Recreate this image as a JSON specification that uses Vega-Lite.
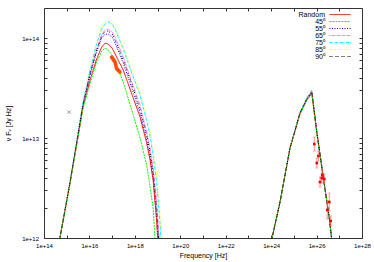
{
  "$schema": "https://vega.github.io/schema/vega-lite/v6.json",
  "width": 318,
  "height": 230,
  "autosize": {"type": "none"},
  "padding": {"left": 44, "top": 8, "right": 12, "bottom": 24},
  "background": "white",
  "config": {
    "view": {"stroke": "#333333", "strokeWidth": 1},
    "axis": {
      "domain": false, "grid": false, "tickColor": "#333333", "tickSize": -3, "tickWidth": 1,
      "labelFont": "Liberation Sans", "labelFontSize": 6, "labelColor": "#000000",
      "labelFlush": false, "labelOverlap": false,
      "titleFont": "Liberation Sans", "titleFontSize": 7, "titleFontWeight": "normal", "titleColor": "#000000"
    }
  },
  "datasets": {
    "curves": [
      {"curve":"85⁰","hump":"sync","log_nu":14.55,"log_nuFnu":11.81},{"curve":"85⁰","hump":"sync","log_nu":14.70,"log_nuFnu":12.00},{"curve":"85⁰","hump":"sync","log_nu":15.14,"log_nuFnu":12.55},{"curve":"85⁰","hump":"sync","log_nu":15.72,"log_nuFnu":13.36},{"curve":"85⁰","hump":"sync","log_nu":16.03,"log_nuFnu":13.69},{"curve":"85⁰","hump":"sync","log_nu":16.30,"log_nuFnu":13.94},{"curve":"85⁰","hump":"sync","log_nu":16.54,"log_nuFnu":14.11},{"curve":"85⁰","hump":"sync","log_nu":16.69,"log_nuFnu":14.16},{"curve":"85⁰","hump":"sync","log_nu":16.83,"log_nuFnu":14.18},{"curve":"85⁰","hump":"sync","log_nu":17.00,"log_nuFnu":14.16},{"curve":"85⁰","hump":"sync","log_nu":17.13,"log_nuFnu":14.11},{"curve":"85⁰","hump":"sync","log_nu":17.49,"log_nuFnu":13.91},{"curve":"85⁰","hump":"sync","log_nu":17.85,"log_nuFnu":13.69},{"curve":"85⁰","hump":"sync","log_nu":18.23,"log_nuFnu":13.46},{"curve":"85⁰","hump":"sync","log_nu":18.52,"log_nuFnu":13.20},{"curve":"85⁰","hump":"sync","log_nu":18.67,"log_nuFnu":13.06},{"curve":"85⁰","hump":"sync","log_nu":18.81,"log_nuFnu":12.85},{"curve":"85⁰","hump":"sync","log_nu":18.96,"log_nuFnu":12.63},{"curve":"85⁰","hump":"sync","log_nu":19.11,"log_nuFnu":12.23},{"curve":"85⁰","hump":"sync","log_nu":19.20,"log_nuFnu":11.80},
      {"curve":"75⁰","hump":"sync","log_nu":14.55,"log_nuFnu":11.81},{"curve":"75⁰","hump":"sync","log_nu":14.70,"log_nuFnu":12.00},{"curve":"75⁰","hump":"sync","log_nu":15.14,"log_nuFnu":12.55},{"curve":"75⁰","hump":"sync","log_nu":15.72,"log_nuFnu":13.36},{"curve":"75⁰","hump":"sync","log_nu":16.03,"log_nuFnu":13.68},{"curve":"75⁰","hump":"sync","log_nu":16.30,"log_nuFnu":13.93},{"curve":"75⁰","hump":"sync","log_nu":16.54,"log_nuFnu":14.09},{"curve":"75⁰","hump":"sync","log_nu":16.69,"log_nuFnu":14.14},{"curve":"75⁰","hump":"sync","log_nu":16.83,"log_nuFnu":14.16},{"curve":"75⁰","hump":"sync","log_nu":17.00,"log_nuFnu":14.14},{"curve":"75⁰","hump":"sync","log_nu":17.13,"log_nuFnu":14.09},{"curve":"75⁰","hump":"sync","log_nu":17.49,"log_nuFnu":13.89},{"curve":"75⁰","hump":"sync","log_nu":17.85,"log_nuFnu":13.66},{"curve":"75⁰","hump":"sync","log_nu":18.23,"log_nuFnu":13.43},{"curve":"75⁰","hump":"sync","log_nu":18.52,"log_nuFnu":13.17},{"curve":"75⁰","hump":"sync","log_nu":18.67,"log_nuFnu":13.02},{"curve":"75⁰","hump":"sync","log_nu":18.81,"log_nuFnu":12.81},{"curve":"75⁰","hump":"sync","log_nu":18.96,"log_nuFnu":12.56},{"curve":"75⁰","hump":"sync","log_nu":19.11,"log_nuFnu":12.14},{"curve":"75⁰","hump":"sync","log_nu":19.20,"log_nuFnu":11.71},
      {"curve":"65⁰","hump":"sync","log_nu":14.55,"log_nuFnu":11.81},{"curve":"65⁰","hump":"sync","log_nu":14.70,"log_nuFnu":12.00},{"curve":"65⁰","hump":"sync","log_nu":15.14,"log_nuFnu":12.55},{"curve":"65⁰","hump":"sync","log_nu":15.72,"log_nuFnu":13.34},{"curve":"65⁰","hump":"sync","log_nu":16.03,"log_nuFnu":13.65},{"curve":"65⁰","hump":"sync","log_nu":16.30,"log_nuFnu":13.88},{"curve":"65⁰","hump":"sync","log_nu":16.54,"log_nuFnu":14.04},{"curve":"65⁰","hump":"sync","log_nu":16.69,"log_nuFnu":14.08},{"curve":"65⁰","hump":"sync","log_nu":16.83,"log_nuFnu":14.09},{"curve":"65⁰","hump":"sync","log_nu":17.00,"log_nuFnu":14.06},{"curve":"65⁰","hump":"sync","log_nu":17.13,"log_nuFnu":14.01},{"curve":"65⁰","hump":"sync","log_nu":17.49,"log_nuFnu":13.81},{"curve":"65⁰","hump":"sync","log_nu":17.85,"log_nuFnu":13.57},{"curve":"65⁰","hump":"sync","log_nu":18.23,"log_nuFnu":13.33},{"curve":"65⁰","hump":"sync","log_nu":18.52,"log_nuFnu":13.06},{"curve":"65⁰","hump":"sync","log_nu":18.67,"log_nuFnu":12.90},{"curve":"65⁰","hump":"sync","log_nu":18.81,"log_nuFnu":12.69},{"curve":"65⁰","hump":"sync","log_nu":18.96,"log_nuFnu":12.36},{"curve":"65⁰","hump":"sync","log_nu":19.11,"log_nuFnu":11.87},{"curve":"65⁰","hump":"sync","log_nu":19.20,"log_nuFnu":11.42},
      {"curve":"55⁰","hump":"sync","log_nu":14.55,"log_nuFnu":11.81},{"curve":"55⁰","hump":"sync","log_nu":14.70,"log_nuFnu":12.00},{"curve":"55⁰","hump":"sync","log_nu":15.14,"log_nuFnu":12.55},{"curve":"55⁰","hump":"sync","log_nu":15.72,"log_nuFnu":13.33},{"curve":"55⁰","hump":"sync","log_nu":16.03,"log_nuFnu":13.63},{"curve":"55⁰","hump":"sync","log_nu":16.30,"log_nuFnu":13.85},{"curve":"55⁰","hump":"sync","log_nu":16.54,"log_nuFnu":14.00},{"curve":"55⁰","hump":"sync","log_nu":16.69,"log_nuFnu":14.04},{"curve":"55⁰","hump":"sync","log_nu":16.83,"log_nuFnu":14.04},{"curve":"55⁰","hump":"sync","log_nu":17.00,"log_nuFnu":14.01},{"curve":"55⁰","hump":"sync","log_nu":17.13,"log_nuFnu":13.95},{"curve":"55⁰","hump":"sync","log_nu":17.49,"log_nuFnu":13.75},{"curve":"55⁰","hump":"sync","log_nu":17.85,"log_nuFnu":13.51},{"curve":"55⁰","hump":"sync","log_nu":18.23,"log_nuFnu":13.25},{"curve":"55⁰","hump":"sync","log_nu":18.52,"log_nuFnu":12.98},{"curve":"55⁰","hump":"sync","log_nu":18.67,"log_nuFnu":12.81},{"curve":"55⁰","hump":"sync","log_nu":18.81,"log_nuFnu":12.59},{"curve":"55⁰","hump":"sync","log_nu":18.96,"log_nuFnu":12.20},{"curve":"55⁰","hump":"sync","log_nu":19.11,"log_nuFnu":11.66},{"curve":"55⁰","hump":"sync","log_nu":19.20,"log_nuFnu":11.20},
      {"curve":"Random","hump":"sync","log_nu":14.55,"log_nuFnu":11.81},{"curve":"Random","hump":"sync","log_nu":14.70,"log_nuFnu":12.00},{"curve":"Random","hump":"sync","log_nu":15.14,"log_nuFnu":12.54},{"curve":"Random","hump":"sync","log_nu":15.72,"log_nuFnu":13.31},{"curve":"Random","hump":"sync","log_nu":16.03,"log_nuFnu":13.58},{"curve":"Random","hump":"sync","log_nu":16.30,"log_nuFnu":13.78},{"curve":"Random","hump":"sync","log_nu":16.54,"log_nuFnu":13.91},{"curve":"Random","hump":"sync","log_nu":16.69,"log_nuFnu":13.95},{"curve":"Random","hump":"sync","log_nu":16.83,"log_nuFnu":13.94},{"curve":"Random","hump":"sync","log_nu":17.00,"log_nuFnu":13.90},{"curve":"Random","hump":"sync","log_nu":17.13,"log_nuFnu":13.84},{"curve":"Random","hump":"sync","log_nu":17.49,"log_nuFnu":13.68},{"curve":"Random","hump":"sync","log_nu":17.85,"log_nuFnu":13.45},{"curve":"Random","hump":"sync","log_nu":18.23,"log_nuFnu":13.21},{"curve":"Random","hump":"sync","log_nu":18.52,"log_nuFnu":12.95},{"curve":"Random","hump":"sync","log_nu":18.67,"log_nuFnu":12.78},{"curve":"Random","hump":"sync","log_nu":18.81,"log_nuFnu":12.57},{"curve":"Random","hump":"sync","log_nu":18.96,"log_nuFnu":12.17},{"curve":"Random","hump":"sync","log_nu":19.11,"log_nuFnu":11.60},{"curve":"Random","hump":"sync","log_nu":19.20,"log_nuFnu":11.15},
      {"curve":"45⁰","hump":"sync","log_nu":14.55,"log_nuFnu":11.81},{"curve":"45⁰","hump":"sync","log_nu":14.70,"log_nuFnu":12.00},{"curve":"45⁰","hump":"sync","log_nu":15.14,"log_nuFnu":12.54},{"curve":"45⁰","hump":"sync","log_nu":15.72,"log_nuFnu":13.30},{"curve":"45⁰","hump":"sync","log_nu":16.03,"log_nuFnu":13.55},{"curve":"45⁰","hump":"sync","log_nu":16.30,"log_nuFnu":13.75},{"curve":"45⁰","hump":"sync","log_nu":16.54,"log_nuFnu":13.87},{"curve":"45⁰","hump":"sync","log_nu":16.69,"log_nuFnu":13.90},{"curve":"45⁰","hump":"sync","log_nu":16.83,"log_nuFnu":13.88},{"curve":"45⁰","hump":"sync","log_nu":17.00,"log_nuFnu":13.83},{"curve":"45⁰","hump":"sync","log_nu":17.13,"log_nuFnu":13.76},{"curve":"45⁰","hump":"sync","log_nu":17.49,"log_nuFnu":13.56},{"curve":"45⁰","hump":"sync","log_nu":17.85,"log_nuFnu":13.29},{"curve":"45⁰","hump":"sync","log_nu":18.23,"log_nuFnu":13.00},{"curve":"45⁰","hump":"sync","log_nu":18.52,"log_nuFnu":12.73},{"curve":"45⁰","hump":"sync","log_nu":18.67,"log_nuFnu":12.51},{"curve":"45⁰","hump":"sync","log_nu":18.81,"log_nuFnu":12.29},{"curve":"45⁰","hump":"sync","log_nu":18.96,"log_nuFnu":11.70},{"curve":"45⁰","hump":"sync","log_nu":19.11,"log_nuFnu":11.00},{"curve":"45⁰","hump":"sync","log_nu":19.20,"log_nuFnu":10.50},
      {"curve":"90⁰","hump":"sync","log_nu":14.55,"log_nuFnu":11.81},{"curve":"90⁰","hump":"sync","log_nu":14.70,"log_nuFnu":12.00},{"curve":"90⁰","hump":"sync","log_nu":15.14,"log_nuFnu":12.55},{"curve":"90⁰","hump":"sync","log_nu":15.72,"log_nuFnu":13.34},{"curve":"90⁰","hump":"sync","log_nu":16.03,"log_nuFnu":13.64},{"curve":"90⁰","hump":"sync","log_nu":16.30,"log_nuFnu":13.87},{"curve":"90⁰","hump":"sync","log_nu":16.54,"log_nuFnu":14.02},{"curve":"90⁰","hump":"sync","log_nu":16.69,"log_nuFnu":14.07},{"curve":"90⁰","hump":"sync","log_nu":16.83,"log_nuFnu":14.07},{"curve":"90⁰","hump":"sync","log_nu":17.00,"log_nuFnu":14.04},{"curve":"90⁰","hump":"sync","log_nu":17.13,"log_nuFnu":13.98},{"curve":"90⁰","hump":"sync","log_nu":17.49,"log_nuFnu":13.78},{"curve":"90⁰","hump":"sync","log_nu":17.85,"log_nuFnu":13.55},{"curve":"90⁰","hump":"sync","log_nu":18.23,"log_nuFnu":13.29},{"curve":"90⁰","hump":"sync","log_nu":18.52,"log_nuFnu":13.03},{"curve":"90⁰","hump":"sync","log_nu":18.67,"log_nuFnu":12.86},{"curve":"90⁰","hump":"sync","log_nu":18.81,"log_nuFnu":12.65},{"curve":"90⁰","hump":"sync","log_nu":18.96,"log_nuFnu":12.30},{"curve":"90⁰","hump":"sync","log_nu":19.11,"log_nuFnu":11.79},{"curve":"90⁰","hump":"sync","log_nu":19.20,"log_nuFnu":11.33},
      {"curve":"85⁰","hump":"ic","log_nu":23.90,"log_nuFnu":11.86},{"curve":"85⁰","hump":"ic","log_nu":24.04,"log_nuFnu":12.00},{"curve":"85⁰","hump":"ic","log_nu":24.40,"log_nuFnu":12.37},{"curve":"85⁰","hump":"ic","log_nu":24.83,"log_nuFnu":12.90},{"curve":"85⁰","hump":"ic","log_nu":25.27,"log_nuFnu":13.26},{"curve":"85⁰","hump":"ic","log_nu":25.57,"log_nuFnu":13.41},{"curve":"85⁰","hump":"ic","log_nu":25.79,"log_nuFnu":13.48},{"curve":"85⁰","hump":"ic","log_nu":26.01,"log_nuFnu":13.06},{"curve":"85⁰","hump":"ic","log_nu":26.30,"log_nuFnu":12.60},{"curve":"85⁰","hump":"ic","log_nu":26.56,"log_nuFnu":12.20},{"curve":"85⁰","hump":"ic","log_nu":26.67,"log_nuFnu":11.98},{"curve":"85⁰","hump":"ic","log_nu":26.72,"log_nuFnu":11.88},
      {"curve":"75⁰","hump":"ic","log_nu":23.90,"log_nuFnu":11.86},{"curve":"75⁰","hump":"ic","log_nu":24.04,"log_nuFnu":12.00},{"curve":"75⁰","hump":"ic","log_nu":24.40,"log_nuFnu":12.37},{"curve":"75⁰","hump":"ic","log_nu":24.83,"log_nuFnu":12.90},{"curve":"75⁰","hump":"ic","log_nu":25.27,"log_nuFnu":13.26},{"curve":"75⁰","hump":"ic","log_nu":25.57,"log_nuFnu":13.40},{"curve":"75⁰","hump":"ic","log_nu":25.79,"log_nuFnu":13.48},{"curve":"75⁰","hump":"ic","log_nu":26.01,"log_nuFnu":13.06},{"curve":"75⁰","hump":"ic","log_nu":26.30,"log_nuFnu":12.60},{"curve":"75⁰","hump":"ic","log_nu":26.56,"log_nuFnu":12.20},{"curve":"75⁰","hump":"ic","log_nu":26.67,"log_nuFnu":11.98},{"curve":"75⁰","hump":"ic","log_nu":26.72,"log_nuFnu":11.88},
      {"curve":"65⁰","hump":"ic","log_nu":23.90,"log_nuFnu":11.86},{"curve":"65⁰","hump":"ic","log_nu":24.04,"log_nuFnu":12.00},{"curve":"65⁰","hump":"ic","log_nu":24.40,"log_nuFnu":12.37},{"curve":"65⁰","hump":"ic","log_nu":24.83,"log_nuFnu":12.90},{"curve":"65⁰","hump":"ic","log_nu":25.27,"log_nuFnu":13.25},{"curve":"65⁰","hump":"ic","log_nu":25.57,"log_nuFnu":13.40},{"curve":"65⁰","hump":"ic","log_nu":25.79,"log_nuFnu":13.47},{"curve":"65⁰","hump":"ic","log_nu":26.01,"log_nuFnu":13.06},{"curve":"65⁰","hump":"ic","log_nu":26.30,"log_nuFnu":12.60},{"curve":"65⁰","hump":"ic","log_nu":26.56,"log_nuFnu":12.20},{"curve":"65⁰","hump":"ic","log_nu":26.67,"log_nuFnu":11.98},{"curve":"65⁰","hump":"ic","log_nu":26.72,"log_nuFnu":11.88},
      {"curve":"55⁰","hump":"ic","log_nu":23.90,"log_nuFnu":11.86},{"curve":"55⁰","hump":"ic","log_nu":24.04,"log_nuFnu":12.00},{"curve":"55⁰","hump":"ic","log_nu":24.40,"log_nuFnu":12.37},{"curve":"55⁰","hump":"ic","log_nu":24.83,"log_nuFnu":12.90},{"curve":"55⁰","hump":"ic","log_nu":25.27,"log_nuFnu":13.25},{"curve":"55⁰","hump":"ic","log_nu":25.57,"log_nuFnu":13.39},{"curve":"55⁰","hump":"ic","log_nu":25.79,"log_nuFnu":13.46},{"curve":"55⁰","hump":"ic","log_nu":26.01,"log_nuFnu":13.06},{"curve":"55⁰","hump":"ic","log_nu":26.30,"log_nuFnu":12.60},{"curve":"55⁰","hump":"ic","log_nu":26.56,"log_nuFnu":12.20},{"curve":"55⁰","hump":"ic","log_nu":26.67,"log_nuFnu":11.98},{"curve":"55⁰","hump":"ic","log_nu":26.72,"log_nuFnu":11.88},
      {"curve":"Random","hump":"ic","log_nu":23.90,"log_nuFnu":11.86},{"curve":"Random","hump":"ic","log_nu":24.04,"log_nuFnu":12.00},{"curve":"Random","hump":"ic","log_nu":24.40,"log_nuFnu":12.37},{"curve":"Random","hump":"ic","log_nu":24.83,"log_nuFnu":12.90},{"curve":"Random","hump":"ic","log_nu":25.27,"log_nuFnu":13.24},{"curve":"Random","hump":"ic","log_nu":25.57,"log_nuFnu":13.38},{"curve":"Random","hump":"ic","log_nu":25.79,"log_nuFnu":13.45},{"curve":"Random","hump":"ic","log_nu":26.01,"log_nuFnu":13.06},{"curve":"Random","hump":"ic","log_nu":26.30,"log_nuFnu":12.60},{"curve":"Random","hump":"ic","log_nu":26.56,"log_nuFnu":12.20},{"curve":"Random","hump":"ic","log_nu":26.67,"log_nuFnu":11.98},{"curve":"Random","hump":"ic","log_nu":26.72,"log_nuFnu":11.88},
      {"curve":"45⁰","hump":"ic","log_nu":23.90,"log_nuFnu":11.86},{"curve":"45⁰","hump":"ic","log_nu":24.04,"log_nuFnu":12.00},{"curve":"45⁰","hump":"ic","log_nu":24.40,"log_nuFnu":12.37},{"curve":"45⁰","hump":"ic","log_nu":24.83,"log_nuFnu":12.90},{"curve":"45⁰","hump":"ic","log_nu":25.27,"log_nuFnu":13.24},{"curve":"45⁰","hump":"ic","log_nu":25.57,"log_nuFnu":13.38},{"curve":"45⁰","hump":"ic","log_nu":25.79,"log_nuFnu":13.44},{"curve":"45⁰","hump":"ic","log_nu":26.01,"log_nuFnu":13.05},{"curve":"45⁰","hump":"ic","log_nu":26.30,"log_nuFnu":12.60},{"curve":"45⁰","hump":"ic","log_nu":26.56,"log_nuFnu":12.20},{"curve":"45⁰","hump":"ic","log_nu":26.67,"log_nuFnu":11.98},{"curve":"45⁰","hump":"ic","log_nu":26.72,"log_nuFnu":11.88},
      {"curve":"90⁰","hump":"ic","log_nu":23.90,"log_nuFnu":11.86},{"curve":"90⁰","hump":"ic","log_nu":24.04,"log_nuFnu":12.00},{"curve":"90⁰","hump":"ic","log_nu":24.40,"log_nuFnu":12.37},{"curve":"90⁰","hump":"ic","log_nu":24.83,"log_nuFnu":12.90},{"curve":"90⁰","hump":"ic","log_nu":25.27,"log_nuFnu":13.25},{"curve":"90⁰","hump":"ic","log_nu":25.57,"log_nuFnu":13.39},{"curve":"90⁰","hump":"ic","log_nu":25.79,"log_nuFnu":13.46},{"curve":"90⁰","hump":"ic","log_nu":26.01,"log_nuFnu":13.06},{"curve":"90⁰","hump":"ic","log_nu":26.30,"log_nuFnu":12.60},{"curve":"90⁰","hump":"ic","log_nu":26.56,"log_nuFnu":12.20},{"curve":"90⁰","hump":"ic","log_nu":26.67,"log_nuFnu":11.98},{"curve":"90⁰","hump":"ic","log_nu":26.72,"log_nuFnu":11.88}
    ],
    "optical": [
      {"log_nu":16.98,"log_nuFnu":13.81},{"log_nu":17.01,"log_nuFnu":13.80},{"log_nu":17.04,"log_nuFnu":13.79},{"log_nu":17.07,"log_nuFnu":13.78},{"log_nu":17.10,"log_nuFnu":13.77},{"log_nu":17.13,"log_nuFnu":13.76},{"log_nu":17.15,"log_nuFnu":13.74},{"log_nu":17.17,"log_nuFnu":13.72},{"log_nu":17.19,"log_nuFnu":13.70},{"log_nu":17.22,"log_nuFnu":13.69},{"log_nu":17.26,"log_nuFnu":13.68},{"log_nu":17.30,"log_nuFnu":13.67},{"log_nu":17.34,"log_nuFnu":13.66}
    ],
    "cross": [{"log_nu":15.11,"log_nuFnu":13.26}],
    "gamma": [
      {"log_nu":25.90,"log_nuFnu":12.94,"lo":12.87,"hi":13.01},
      {"log_nu":26.08,"log_nuFnu":12.82,"lo":12.77,"hi":12.87},
      {"log_nu":26.01,"log_nuFnu":12.75,"lo":12.70,"hi":12.80},
      {"log_nu":26.25,"log_nuFnu":12.63,"lo":12.58,"hi":12.68},
      {"log_nu":26.15,"log_nuFnu":12.56,"lo":12.51,"hi":12.61},
      {"log_nu":26.34,"log_nuFnu":12.59,"lo":12.54,"hi":12.64},
      {"log_nu":26.23,"log_nuFnu":12.60,"lo":12.55,"hi":12.65},
      {"log_nu":26.56,"log_nuFnu":12.36,"lo":12.27,"hi":12.45},
      {"log_nu":26.47,"log_nuFnu":12.28,"lo":12.19,"hi":12.37},
      {"log_nu":26.62,"log_nuFnu":12.17,"lo":12.12,"hi":12.22}
    ]
  },
  "resolve": {"axis": {"x": "independent", "y": "independent"}},
  "layer": [
    {
      "data": {"name": "curves"},
      "mark": {"type": "line", "clip": true, "strokeWidth": 1},
      "encoding": {
        "x": {"field": "log_nu", "type": "quantitative", "scale": {"domain": [14, 28], "nice": false, "zero": false},
          "axis": {"orient": "bottom", "values": [14,15,16,17,18,19,20,21,22,23,24,25,26,27,28],
            "labelExpr": "datum.value % 2 == 0 ? '1e+' + datum.value : ''", "labelPadding": 7.5,
            "title": "Frequency [Hz]", "titleX": 159, "titleY": 17, "titleBaseline": "middle", "titleAlign": "center"}},
        "y": {"field": "log_nuFnu", "type": "quantitative", "scale": {"domain": [12, 14.30103], "nice": false, "zero": false},
          "axis": {"orient": "left", "values": [12,12.30103,12.47712,12.60206,12.69897,12.77815,12.8451,12.90309,12.95424,13,13.30103,13.47712,13.60206,13.69897,13.77815,13.8451,13.90309,13.95424,14],
            "labelExpr": "abs(datum.value - round(datum.value)) < 0.001 ? '1e+' + round(datum.value) : ''", "labelPadding": 8.5,
            "title": "ν Fᵥ [Jy Hz]", "titleX": -36, "titleY": 115, "titleBaseline": "middle", "titleAlign": "center", "titleAngle": -90}},
        "color": {"field": "curve", "type": "nominal",
          "scale": {"domain": ["Random","45⁰","55⁰","65⁰","75⁰","85⁰","90⁰"], "range": ["#ff0000","#00ff00","#0000ff","#ff00ff","#00ffff","#ffff00","#000000"]},
          "legend": {"title": null, "orient": "none", "legendX": 282, "legendY": 3, "padding": 0, "rowPadding": -1,
            "labelFont": "Liberation Sans", "labelFontSize": 7, "labelColor": "#000000", "labelAlign": "right", "labelOffset": -8,
            "symbolType": "M0,0H7", "symbolSize": 36, "symbolStrokeWidth": 1,
            "encode": {"symbols": {"update": {
              "stroke": {"signal": "scale('color', datum.value)"},
              "strokeDash": {"signal": "scale('strokeDash', datum.value)"}}}}}},
        "strokeDash": {"field": "curve", "type": "nominal",
          "scale": {"domain": ["Random","45⁰","55⁰","65⁰","75⁰","85⁰","90⁰"], "range": [[1,0],[2,1],[1,1.5],[0.5,0.75],[3,1,0.5,1],[1.5,1.5,0.5,1.5],[1,1,1,3]]},
          "legend": null},
        "detail": {"field": "hump", "type": "nominal"}
      }
    },
    {
      "data": {"name": "optical"},
      "mark": {"type": "point", "filled": true, "shape": "circle", "size": 14, "color": "#ff4d00", "opacity": 1, "clip": true},
      "encoding": {
        "x": {"field": "log_nu", "type": "quantitative", "scale": {"domain": [14, 28], "nice": false, "zero": false},
          "axis": {"orient": "top", "values": [14,15,16,17,18,19,20,21,22,23,24,25,26,27,28], "labels": false, "title": null}},
        "y": {"field": "log_nuFnu", "type": "quantitative", "scale": {"domain": [12, 14.30103], "nice": false, "zero": false},
          "axis": {"orient": "right", "values": [12,12.30103,12.47712,12.60206,12.69897,12.77815,12.8451,12.90309,12.95424,13,13.30103,13.47712,13.60206,13.69897,13.77815,13.8451,13.90309,13.95424,14], "labels": false, "title": null}}
      }
    },
    {
      "data": {"name": "cross"},
      "mark": {"type": "point", "shape": "M-1,-1L1,1M-1,1L1,-1", "filled": false, "size": 12, "strokeWidth": 0.8, "color": "#808080", "opacity": 1},
      "encoding": {
        "x": {"field": "log_nu", "type": "quantitative", "scale": {"domain": [14, 28], "nice": false, "zero": false}, "axis": null},
        "y": {"field": "log_nuFnu", "type": "quantitative", "scale": {"domain": [12, 14.30103], "nice": false, "zero": false}, "axis": null}
      }
    },
    {
      "data": {"name": "gamma"},
      "mark": {"type": "rule", "color": "#ff6060", "strokeWidth": 0.7},
      "encoding": {
        "x": {"field": "log_nu", "type": "quantitative", "scale": {"domain": [14, 28], "nice": false, "zero": false}, "axis": null},
        "y": {"field": "lo", "type": "quantitative", "scale": {"domain": [12, 14.30103], "nice": false, "zero": false}, "axis": null},
        "y2": {"field": "hi"}
      }
    },
    {
      "data": {"name": "gamma"},
      "mark": {"type": "tick", "orient": "horizontal", "size": 3, "thickness": 0.7, "color": "#ff6060"},
      "encoding": {
        "x": {"field": "log_nu", "type": "quantitative", "scale": {"domain": [14, 28], "nice": false, "zero": false}, "axis": null},
        "y": {"field": "lo", "type": "quantitative", "scale": {"domain": [12, 14.30103], "nice": false, "zero": false}, "axis": null}
      }
    },
    {
      "data": {"name": "gamma"},
      "mark": {"type": "tick", "orient": "horizontal", "size": 3, "thickness": 0.7, "color": "#ff6060"},
      "encoding": {
        "x": {"field": "log_nu", "type": "quantitative", "scale": {"domain": [14, 28], "nice": false, "zero": false}, "axis": null},
        "y": {"field": "hi", "type": "quantitative", "scale": {"domain": [12, 14.30103], "nice": false, "zero": false}, "axis": null}
      }
    },
    {
      "data": {"name": "gamma"},
      "mark": {"type": "point", "shape": "square", "filled": true, "size": 7, "color": "#ff0000", "opacity": 1},
      "encoding": {
        "x": {"field": "log_nu", "type": "quantitative", "scale": {"domain": [14, 28], "nice": false, "zero": false}, "axis": null},
        "y": {"field": "log_nuFnu", "type": "quantitative", "scale": {"domain": [12, 14.30103], "nice": false, "zero": false}, "axis": null}
      }
    }
  ]
}
